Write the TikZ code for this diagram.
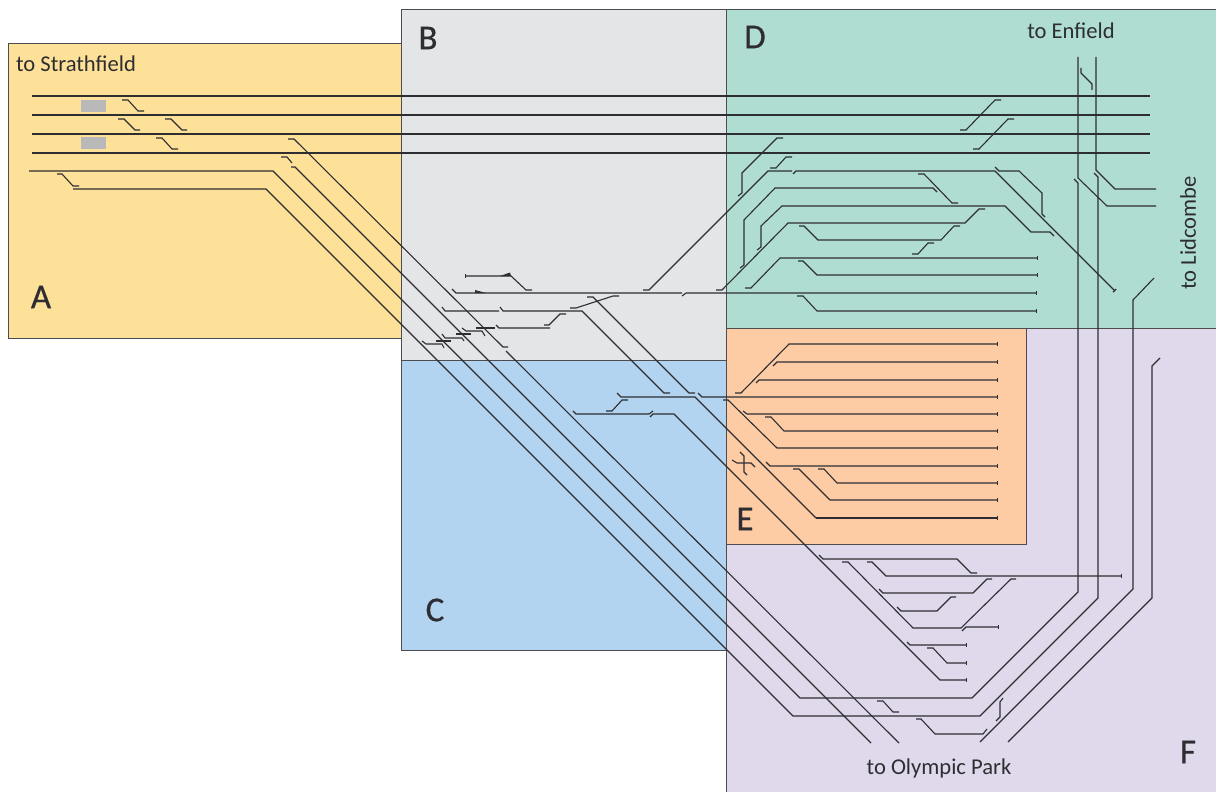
\documentclass[tikz,border=0pt]{standalone}
\usepackage{fontspec}
\setmainfont{Carlito}
\usetikzlibrary{arrows.meta}
\definecolor{zA}{HTML}{FEE198}
\definecolor{zB}{HTML}{E4E5E7}
\definecolor{zC}{HTML}{B2D4F0}
\definecolor{zD}{HTML}{AFDDD2}
\definecolor{zE}{HTML}{FDCCA5}
\definecolor{zF}{HTML}{E0D8EB}
\definecolor{ink}{HTML}{2E2E32}
\newfontfamily\heavyface[FakeBold=0.6]{Carlito}
\tikzset{
  zone/.style={draw=ink!85,line width=1pt},
  trk/.style={draw=ink,line width=1.1pt,line join=miter},
  tk/.style={trk,-{Bar[width=4.5pt,length=1pt]}},
  tktk/.style={trk,{Bar[width=4.5pt,length=1pt]}-},
  lab/.style={text=ink,font=\fontsize{22.6}{26}\selectfont},
  big/.style={text=ink,font=\heavyface\fontsize{35}{40}\selectfont}
}
\begin{document}
\begin{tikzpicture}[x=1pt,y=-1pt]
\useasboundingbox (0,0) rectangle (1216,792);
% zones
\fill[white] (0,0) rectangle (1216,792);
\draw[zone,fill=zA] (8.5,43.5) rectangle (401,338);
\draw[zone,fill=zB] (401.5,10) rectangle (726,360);
\draw[zone,fill=zC] (401.5,360) rectangle (726,650);
\fill[zD] (726,10) rectangle (1216,328);
\fill[zF] (726,328) rectangle (1216,792);
\draw[zone] (1216,10) -- (726,10) -- (726,792);
\draw[zone] (726,328) -- (1216,328);
\draw[zone,fill=zE] (726.5,328) rectangle (1026,544);
\fill[gray!55] (81,100) rectangle (106,112);
\fill[gray!55] (81,137) rectangle (106,149);
% A: through lines
\draw[trk] (32,96) -- (1150,96);
\draw[trk] (32,115) -- (1150,115);
\draw[trk] (32,134) -- (1150,134);
\draw[trk] (32,153) -- (1150,153);
\draw[trk] (122,100) -- (128,100) -- (138,111) -- (144,111);
\draw[trk] (118,119) -- (124,119) -- (135,130) -- (140,130);
\draw[trk] (165,119) -- (171,119) -- (182,130) -- (187,130);
\draw[trk] (156,138) -- (162,138) -- (172,149) -- (178,149);
\draw[trk] (57,174) -- (62,174) -- (73,186) -- (79,186);
\draw[trk] (281,157) -- (287,157) -- (292,163);
% long routes
\draw[trk] (29,171) -- (273,171) -- (800,698) -- (972,698) -- (1078,592) -- (1078,183) -- (1074,179);
\draw[trk] (73,189) -- (266,189) -- (793,716) -- (980,716) -- (1098,598) -- (1098,177) -- (1094,173);
\draw[trk] (288,139) -- (294,139) -- (503,347) -- (508,347);
\draw[trk] (506,351) -- (899,743);
\draw[trk] (291,167) -- (295,167) -- (871,743);
\draw[trk] (980,742) -- (1133,589) -- (1133,300) -- (1154,278);
\draw[trk] (1008,742) -- (1152,598) -- (1152,366) -- (1160,358);
% B
\draw[tktk] (465,276) -- (511,276) -- (526,290) -- (532,290);
\fill[ink] (500,276) -- (510,272.5) -- (511,276) -- cycle;
\fill[ink] (475,293) -- (475,290) -- (486,293) -- cycle;
\draw[trk] (452,289) -- (456,293) -- (682,293);
\draw[tk] (682,296) -- (686,293) -- (1037,293);
\draw[trk] (643,290) -- (649,290) -- (768,171) -- (792,171);
\draw[tk] (793,174) -- (796,171) -- (995,171) -- (1115,291);
\draw[trk] (716,290) -- (722,290) -- (788,223) -- (965,223) -- (979,209) -- (985,209);
\draw[trk] (442,307) -- (445,311) -- (499,311);
\draw[trk] (500,307) -- (503,311) -- (582,311) -- (664,393) -- (670,393);
\draw[trk] (570,308) -- (576,308) -- (613,296) -- (619,296);
\draw[trk] (587,297) -- (593,297) -- (689,393) -- (695,393);
\draw[trk] (476,328) -- (495,328);
\draw[trk] (496,325) -- (499,328) -- (550,328);
\draw[trk] (544,325) -- (549,325) -- (560,314) -- (566,314);
\draw[trk] (462,328) -- (466,331) -- (482,331) -- (485,336);
\draw[trk] (456,334) -- (471,334);
\draw[trk] (442,334) -- (445,338) -- (462,338) -- (464,341);
\draw[trk] (436,341) -- (451,341);
\draw[trk] (422,341) -- (426,344) -- (442,344) -- (444,348);
% C
\draw[trk] (617,393) -- (621,397) -- (695,397) -- (816,518);
\draw[tk] (816,518) -- (998,518);
\draw[tk] (698,393) -- (702,397) -- (998,397);
\draw[tk] (735,393) -- (741,393) -- (789,344) -- (998,344);
\draw[tk] (723,400) -- (728,400) -- (777,448) -- (998,448);
\draw[trk] (573,411) -- (576,414) -- (649,414) -- (653,411);
\draw[tk] (650,417) -- (653,414) -- (674,414) -- (940,680) -- (967,680);
\draw[trk] (606,411) -- (612,411) -- (622,400) -- (628,400);
% D
\draw[trk] (960,130) -- (966,130) -- (995,100) -- (1001,100);
\draw[trk] (973,149) -- (979,149) -- (1008,119) -- (1014,119);
\draw[trk] (738,196) -- (742,193) -- (742,173) -- (777,138) -- (783,138);
\draw[trk] (770,168) -- (776,168) -- (786,157) -- (792,157);
\draw[trk] (740,268) -- (744,265) -- (744,220) -- (775,188) -- (933,188) -- (937,192);
\draw[trk] (757,250) -- (761,247) -- (761,226) -- (782,206) -- (1005,206) -- (1031,232) -- (1050,232) -- (1054,236);
\draw[trk] (918,174) -- (924,174) -- (952,203) -- (958,203);
\draw[trk] (799,226) -- (804,226) -- (818,240) -- (941,240) -- (954,226) -- (960,226);
\draw[trk] (912,254) -- (918,254) -- (928,243) -- (934,243);
\draw[tk] (745,288) -- (751,288) -- (780,258) -- (1038,258);
\draw[tk] (798,261) -- (803,261) -- (817,275) -- (1038,275);
\draw[tk] (797,296) -- (803,296) -- (817,311) -- (1037,311);
\draw[trk] (995,167) -- (999,171) -- (1019,171) -- (1042,193) -- (1042,214) -- (1045,217);
\draw[trk] (1078,57) -- (1078,178) -- (1107,206) -- (1156,206);
\draw[trk] (1096,57) -- (1096,170) -- (1115,189) -- (1156,189);
\draw[trk] (1081,68) -- (1081,73) -- (1092,84) -- (1092,90);
% E
\draw[tk] (773,366) -- (777,362) -- (998,362);
\draw[tk] (756,383) -- (759,380) -- (998,380);
\draw[tk] (743,411) -- (747,414) -- (998,414);
\draw[tk] (765,417) -- (771,417) -- (784,431) -- (998,431);
\draw[tk] (766,462) -- (770,466) -- (998,466);
\draw[tk] (793,469) -- (799,469) -- (830,500) -- (998,500);
\draw[tk] (818,469) -- (824,469) -- (837,483) -- (998,483);
\draw[trk] (732,460) -- (737,463) -- (751,463) -- (755,467);
\draw[trk] (740,452) -- (744,456) -- (744,472) -- (747,475);
% F
\draw[trk] (819,555) -- (823,559) -- (957,559) -- (971,573) -- (977,573);
\draw[tk] (867,562) -- (872,562) -- (886,576) -- (1122,576);
\draw[trk] (842,562) -- (848,562) -- (913,628) -- (961,628) -- (1011,579) -- (1016,579);
\draw[trk] (879,589) -- (883,593) -- (973,593) -- (987,579) -- (992,579);
\draw[trk] (897,607) -- (901,611) -- (937,611) -- (951,597) -- (956,597);
\draw[tk] (962,631) -- (966,627) -- (999,627);
\draw[tk] (907,642) -- (910,645) -- (967,645);
\draw[tk] (927,648) -- (933,648) -- (947,663) -- (967,663);
\draw[trk] (877,701) -- (883,701) -- (893,712) -- (899,712);
\draw[trk] (916,719) -- (921,719) -- (935,734) -- (983,734) -- (987,729);
\draw[trk] (1003,698) -- (1000,702) -- (1000,717) -- (996,721);
% labels
\node[lab] (s) at (76,64) {to Strathfield};
\node[lab] (n) at (1071,31) {to Enfield};
\node[lab,rotate=90] (l) at (1188,233) {to Lidcombe};
\node[lab] (o) at (939,768) {to Olympic Park};
\node[big] (a) at (41,297) {A};
\node[big] (b) at (428,38) {B};
\node[big] (c) at (435,610) {C};
\node[big] (d) at (755,37) {D};
\node[big] (e) at (745,519) {E};
\node[big] (f) at (1188,752) {F};
\end{tikzpicture}
\end{document}
